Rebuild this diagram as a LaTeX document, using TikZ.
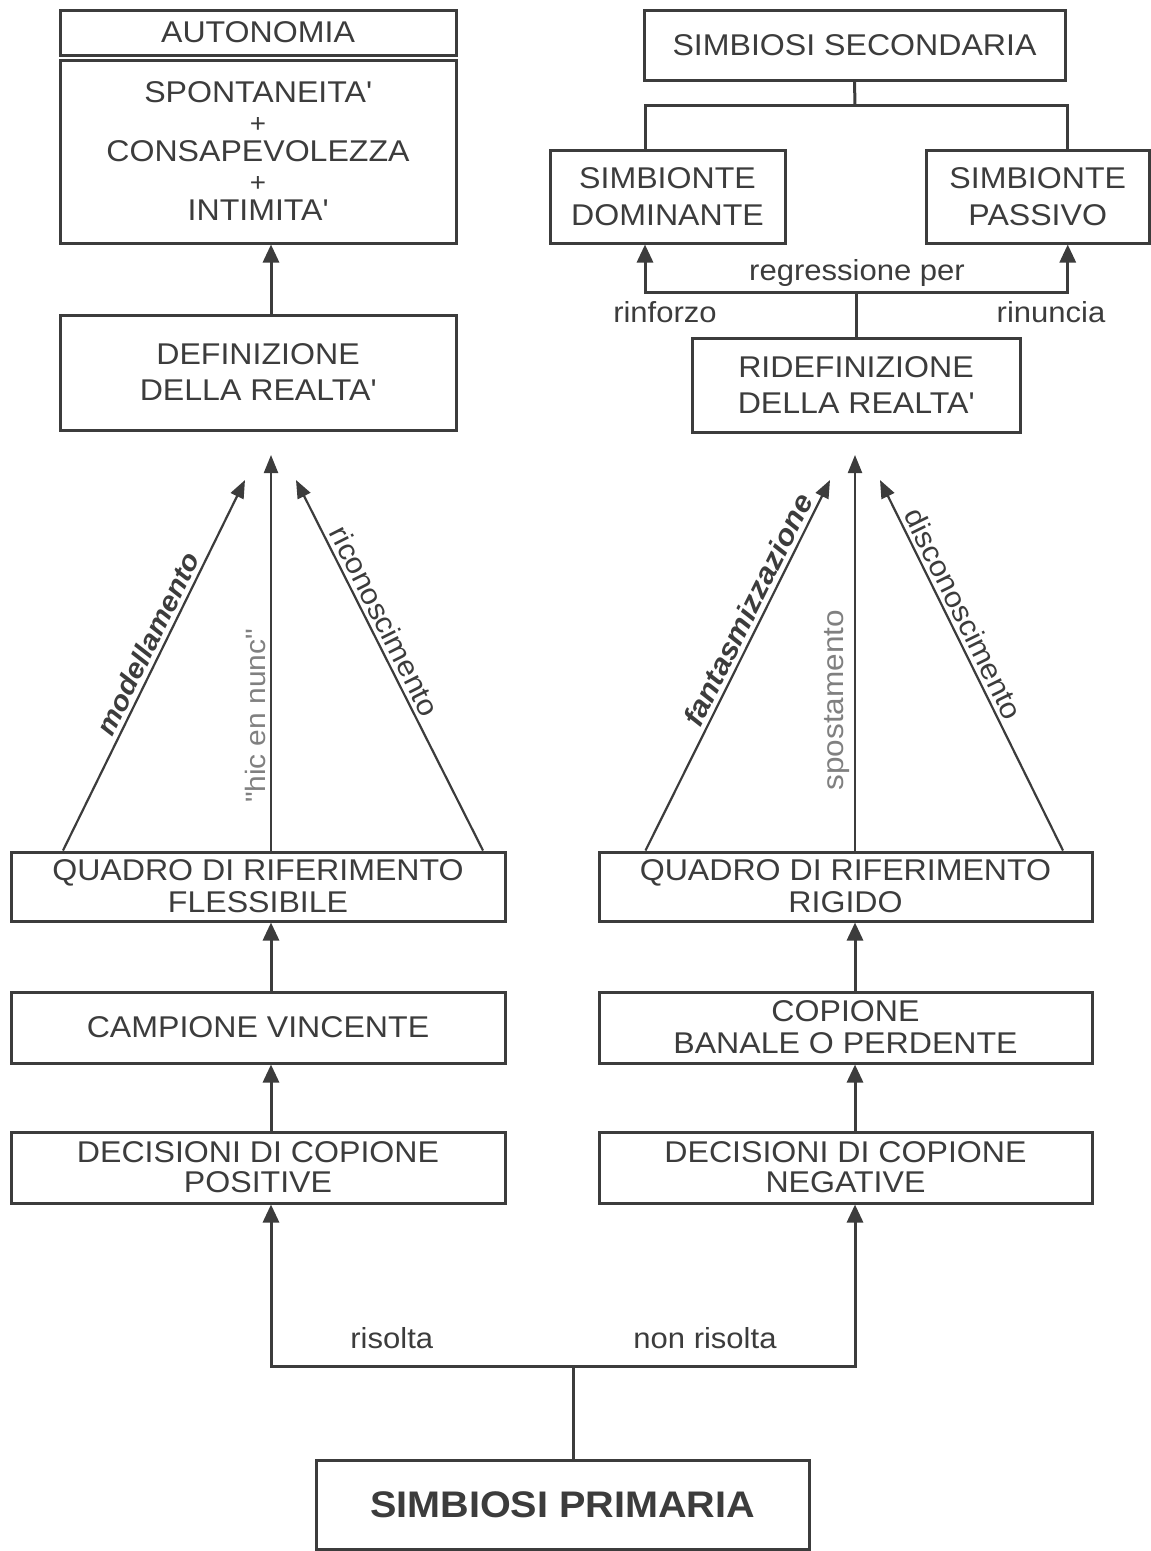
\documentclass[tikz,border=0pt]{standalone}
\usepackage{fontspec}
\setmainfont{Liberation Sans}[FakeStretch=1.07]
\usetikzlibrary{arrows.meta,positioning}
\definecolor{ink}{HTML}{3C3C3C}
\definecolor{soft}{HTML}{808080}

\begin{document}
\begin{tikzpicture}[x=1pt,y=-1pt,box/.style={draw=ink,line width=3pt,text=ink,align=center,inner sep=0pt,font=\fontsize{30}{32}\selectfont},wire/.style={draw=ink,line width=3pt},flow/.style={wire,-{Triangle[length=18pt,width=16pt]}},ray/.style={draw=ink,line width=2.2pt,-{Triangle[length=18pt,width=14pt]}},lbl/.style={text=ink,inner sep=4pt,font=\fontsize{29}{31}\selectfont}]
\useasboundingbox (0,0) rectangle (1151,1551);
% colonna sinistra
\node[box,minimum width=396pt,minimum height=45pt] (head) at (258,32.5) {AUTONOMIA};
\node[box,minimum width=396pt,minimum height=183pt,font=\fontsize{30}{29.5}\selectfont] (auto) at (258,151.5) {SPONTANEITA\textquotesingle\\{\fontsize{26}{26}\selectfont +}\\CONSAPEVOLEZZA\\{\fontsize{26}{26}\selectfont +}\\INTIMITA\textquotesingle};
\node[box,minimum width=396pt,minimum height=115pt,font=\fontsize{30}{36}\selectfont] (defin) at (258,372.5) {DEFINIZIONE\\DELLA REALTA\textquotesingle};
\node[box,minimum width=494pt,minimum height=69pt] (quadL) at (258,886.5) {QUADRO DI RIFERIMENTO\\FLESSIBILE};
\node[box,minimum width=494pt,minimum height=71pt] (campL) at (258,1027.5) {CAMPIONE VINCENTE};
\node[box,minimum width=494pt,minimum height=71pt,font=\fontsize{30}{30}\selectfont] (decL) at (258,1167.5) {DECISIONI DI COPIONE\\POSITIVE};
% colonna destra
\node[box,minimum width=421pt,minimum height=70pt] (secon) at (854.5,45) {SIMBIOSI SECONDARIA};
\node[box,minimum width=235pt,minimum height=93pt,font=\fontsize{30}{37}\selectfont] (dom) at (667.5,196.5) {SIMBIONTE\\DOMINANTE};
\node[box,minimum width=223.5pt,minimum height=93pt,font=\fontsize{30}{37}\selectfont] (pas) at (1037.75,196.5) {SIMBIONTE\\PASSIVO};
\node[box,minimum width=328pt,minimum height=94pt,font=\fontsize{30}{36}\selectfont] (redef) at (856,385) {RIDEFINIZIONE\\DELLA REALTA\textquotesingle};
\node[box,minimum width=493pt,minimum height=69pt] (quadR) at (845.5,886.5) {QUADRO DI RIFERIMENTO\\RIGIDO};
\node[box,minimum width=493pt,minimum height=71pt] (copR) at (845.5,1027.5) {COPIONE\\BANALE O PERDENTE};
\node[box,minimum width=493pt,minimum height=71pt,font=\fontsize{30}{30}\selectfont] (decR) at (845.5,1167.5) {DECISIONI DI COPIONE\\NEGATIVE};
% base
\node[box,minimum width=493pt,minimum height=89pt,font=\bfseries\fontsize{37}{39}\selectfont] (prim) at (562.5,1504.5) {SIMBIOSI PRIMARIA};
\coordinate (apL1) at (245,480);\coordinate (apL2) at (271,455);\coordinate (apL3) at (296,480);
\coordinate (apR1) at (830,480);\coordinate (apR2) at (855,455);\coordinate (apR3) at (880,480);
% frecce
\draw[flow] ([xshift=13pt]defin.north)--([xshift=13pt]auto.south);
\draw[ray] ([xshift=-195pt]quadL.north)--node[lbl,sloped,above,pos=.54,font=\bfseries\itshape\fontsize{27.5}{30}\selectfont]{modellamento}(apL1);
\draw[ray] ([xshift=13pt]quadL.north)--node[lbl,sloped,above,pos=.34,text=soft,font=\fontsize{28}{30}\selectfont]{\textquotedbl hic en nunc\textquotedbl}(apL2);
\draw[ray] ([xshift=225pt]quadL.north)--node[lbl,sloped,above,pos=.60]{riconoscimento}(apL3);
\draw[ray] ([xshift=-200pt]quadR.north)--node[lbl,sloped,above,pos=.63,font=\bfseries\itshape\fontsize{29}{31}\selectfont]{fantasmizzazione}(apR1);
\draw[ray] ([xshift=9.5pt]quadR.north)--node[lbl,sloped,above,pos=.38,text=soft,font=\fontsize{29.5}{32}\selectfont]{spostamento}(apR2);
\draw[ray] ([xshift=217.5pt]quadR.north)--node[lbl,sloped,above,pos=.62]{disconoscimento}(apR3);
\draw[flow] ([xshift=13pt]campL.north)--([xshift=13pt]quadL.south);
\draw[flow] ([xshift=13pt]decL.north)--([xshift=13pt]campL.south);
\draw[flow] ([xshift=9.5pt]copR.north)--([xshift=9.5pt]quadR.south);
\draw[flow] ([xshift=9.5pt]decR.north)--([xshift=9.5pt]copR.south);
% biforcazione in basso
\draw[wire] ([xshift=10.5pt]prim.north)--(573,1366) coordinate (fork);
\draw[flow] (fork)-|node[lbl,above=12pt,pos=.30]{risolta}([xshift=13pt]decL.south);
\draw[flow] (fork)-|node[lbl,above=12pt,pos=.234]{non risolta}([xshift=9.5pt]decR.south);
% simbiosi secondaria
\draw[wire] (secon.south)--(855,105) coordinate (hub);
\draw[wire] (hub)-|([xshift=-22.5pt]dom.north);\draw[wire] (hub)-|([xshift=30pt]pas.north);
\draw[wire] (redef.north)--(856,292) coordinate (hub2);
\draw[flow] (hub2)-|([xshift=-22.5pt]dom.south);\draw[flow] (hub2)-|([xshift=30pt]pas.south);
\node[lbl] (regr) at (857,273) {regressione per};
\node[lbl] (rinf) at (665,312) {rinforzo};
\node[lbl] (rinu) at (1051,312) {rinuncia};
\end{tikzpicture}
\end{document}
